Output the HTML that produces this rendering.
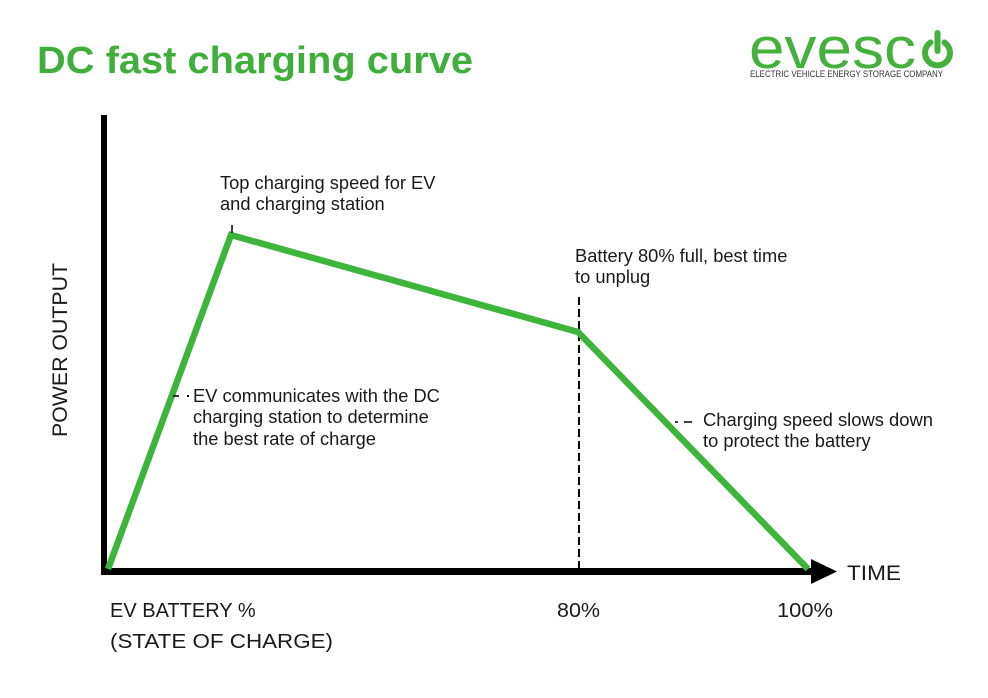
<!DOCTYPE html>
<html>
<head>
<meta charset="utf-8">
<style>
html,body{margin:0;padding:0;background:#fff;}
svg{display:block;}
text{font-family:"Liberation Sans",sans-serif;}
</style>
</head>
<body>
<svg width="988" height="698" viewBox="0 0 988 698" xmlns="http://www.w3.org/2000/svg">
<rect width="988" height="698" fill="#fff"/>
<!-- Title -->
<text x="37" y="73" font-size="38" font-weight="bold" fill="#3fae3a" textLength="436" lengthAdjust="spacingAndGlyphs">DC fast charging curve</text>
<!-- Logo -->
<text x="749" y="68" font-size="58" fill="#44b23a" textLength="167" lengthAdjust="spacingAndGlyphs">evesc</text>
<path d="M 930.5 42.5 A 12.5 12.5 0 1 0 944.5 42.5" fill="none" stroke="#44b23a" stroke-width="6" stroke-linecap="round"/>
<line x1="937.5" y1="33" x2="937.5" y2="51" stroke="#44b23a" stroke-width="6" stroke-linecap="round"/>
<text x="750" y="77" font-size="9" fill="#333" textLength="193" lengthAdjust="spacingAndGlyphs">ELECTRIC VEHICLE ENERGY STORAGE COMPANY</text>

<!-- Axes -->
<rect x="101" y="115" width="6" height="460" fill="#000"/>
<rect x="101" y="568" width="712" height="7" fill="#000"/>
<polygon points="811,559 837,571.5 811,584" fill="#000"/>

<!-- dashed vertical -->
<line x1="579" y1="297" x2="579" y2="568" stroke="#000" stroke-width="2" stroke-dasharray="8,4"/>

<!-- curve -->
<polyline points="108,569 231,235 578,332 808,569" fill="none" stroke="#3db53a" stroke-width="6.5" stroke-linejoin="miter"/>

<!-- tick at peak -->
<line x1="232" y1="225" x2="232" y2="233" stroke="#000" stroke-width="1.5"/>

<!-- annotations -->
<g font-size="18.3" fill="#1a1a1a">
<text x="220" y="189">Top charging speed for EV</text>
<text x="220" y="210">and charging station</text>
<text x="575" y="262">Battery 80% full, best time</text>
<text x="575" y="283">to unplug</text>
<text x="193" y="402">EV communicates with the DC</text>
<text x="193" y="423">charging station to determine</text>
<text x="193" y="445">the best rate of charge</text>
<text x="703" y="426" textLength="230" lengthAdjust="spacingAndGlyphs">Charging speed slows down</text>
<text x="703" y="447">to protect the battery</text>
</g>
<line x1="173" y1="396" x2="179" y2="396" stroke="#000" stroke-width="1.5"/>
<rect x="187" y="395" width="2" height="2" fill="#000"/>
<line x1="675" y1="422" x2="678" y2="422" stroke="#000" stroke-width="1.5"/>
<line x1="684" y1="422" x2="692" y2="422" stroke="#000" stroke-width="1.5"/>

<!-- axis labels -->
<text transform="translate(67,437) rotate(-90)" font-size="21" fill="#1a1a1a" textLength="174" lengthAdjust="spacingAndGlyphs">POWER OUTPUT</text>
<text x="847" y="580" font-size="21" fill="#1a1a1a" textLength="54" lengthAdjust="spacingAndGlyphs">TIME</text>
<text x="110" y="617" font-size="20" fill="#1a1a1a">EV BATTERY %</text>
<text x="110" y="648" font-size="20" fill="#1a1a1a" textLength="223" lengthAdjust="spacingAndGlyphs">(STATE OF CHARGE)</text>
<text x="557" y="617" font-size="20" fill="#1a1a1a" textLength="43" lengthAdjust="spacingAndGlyphs">80%</text>
<text x="777" y="617" font-size="20" fill="#1a1a1a" textLength="56" lengthAdjust="spacingAndGlyphs">100%</text>
</svg>
</body>
</html>
